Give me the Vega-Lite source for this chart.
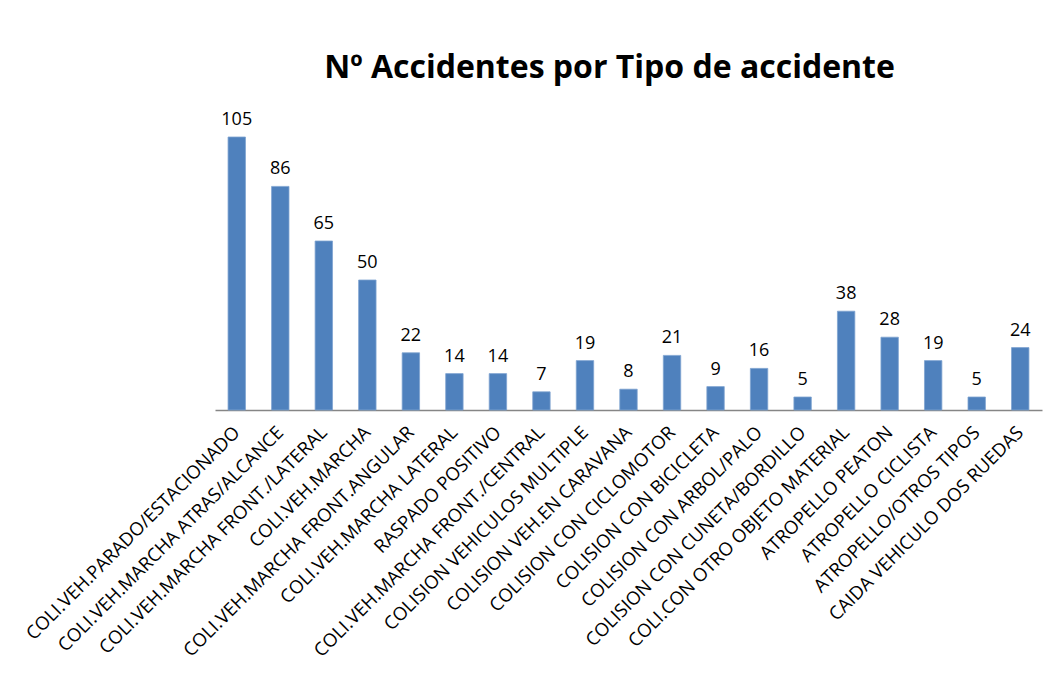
{
  "$schema": "https://vega.github.io/schema/vega-lite/v6.json",
  "autosize": {"type": "none"},
  "padding": {"left": 215, "top": 98, "right": 10, "bottom": 263},
  "width": 827,
  "height": 312,
  "background": "white",
  "title": {
    "text": "Nº Accidentes por Tipo de accidente",
    "font": "Open Sans",
    "fontSize": 32,
    "fontWeight": "bold",
    "color": "#000000",
    "anchor": "middle",
    "dx": -19,
    "offset": 13
  },
  "config": {
    "view": {"stroke": null},
    "font": "Open Sans"
  },
  "data": {
    "values": [
      {"tipo": "COLI.VEH.PARADO/ESTACIONADO", "n": 105},
      {"tipo": "COLI.VEH.MARCHA ATRAS/ALCANCE", "n": 86},
      {"tipo": "COLI.VEH.MARCHA FRONT./LATERAL", "n": 65},
      {"tipo": "COLI.VEH.MARCHA", "n": 50},
      {"tipo": "COLI.VEH.MARCHA FRONT.ANGULAR", "n": 22},
      {"tipo": "COLI.VEH.MARCHA LATERAL", "n": 14},
      {"tipo": "RASPADO POSITIVO", "n": 14},
      {"tipo": "COLI.VEH.MARCHA FRONT./CENTRAL", "n": 7},
      {"tipo": "COLISION VEHICULOS MULTIPLE", "n": 19},
      {"tipo": "COLISION VEH.EN CARAVANA", "n": 8},
      {"tipo": "COLISION CON CICLOMOTOR", "n": 21},
      {"tipo": "COLISION CON BICICLETA", "n": 9},
      {"tipo": "COLISION CON ARBOL/PALO", "n": 16},
      {"tipo": "COLISION CON CUNETA/BORDILLO", "n": 5},
      {"tipo": "COLI.CON OTRO OBJETO MATERIAL", "n": 38},
      {"tipo": "ATROPELLO PEATON", "n": 28},
      {"tipo": "ATROPELLO CICLISTA", "n": 19},
      {"tipo": "ATROPELLO/OTROS TIPOS", "n": 5},
      {"tipo": "CAIDA VEHICULO DOS RUEDAS", "n": 24}
    ]
  },
  "encoding": {
    "x": {
      "field": "tipo",
      "type": "nominal",
      "sort": null,
      "scale": {"paddingInner": 0.6, "paddingOuter": 0.3},
      "axis": {
        "title": null,
        "labelAngle": -45,
        "labelAlign": "right",
        "labelBaseline": "middle",
        "labelFont": "Open Sans",
        "labelFontSize": 18.5,
        "labelColor": "#000000",
        "labelPadding": 19,
        "labelLimit": 0,
        "labelOverlap": false,
        "ticks": false,
        "domainColor": "#868686",
        "domainWidth": 1.5
      }
    },
    "y": {
      "field": "n",
      "type": "quantitative",
      "scale": {"domain": [0, 120], "nice": false},
      "axis": null
    }
  },
  "layer": [
    {
      "mark": {"type": "bar", "color": "#4F81BD", "stroke": "#7FA3D0", "strokeWidth": 0.8}
    },
    {
      "mark": {"type": "text", "baseline": "alphabetic", "dy": -12, "font": "Open Sans", "fontSize": 18, "color": "#000000"},
      "encoding": {"text": {"field": "n", "type": "quantitative"}}
    }
  ]
}
